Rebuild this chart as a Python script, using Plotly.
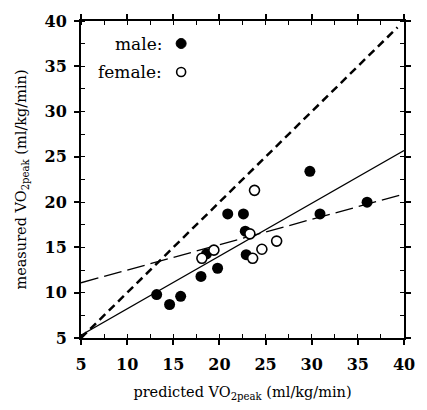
import plotly.graph_objects as go

# Data
male_x = [13.2, 14.6, 15.8, 18.0, 19.8, 18.6, 20.9, 22.6, 22.8, 22.9, 29.8, 30.9, 36.0]
male_y = [9.8, 8.7, 9.6, 11.8, 12.7, 14.3, 18.7, 18.7, 16.8, 14.2, 23.4, 18.7, 20.0]
female_x = [18.1, 19.4, 23.8, 23.3, 23.6, 24.6, 26.2]
female_y = [13.8, 14.7, 21.3, 16.5, 13.8, 14.8, 15.7]

identity_x = [5.0, 39.3]
identity_y = [5.0, 39.3]
fit_x = [5.0, 40.0]
fit_all_y = [5.3, 25.7]
fit_long_y = [11.1, 20.9]

axis_range = [5, 40]
tick_step = 5

FONT = "DejaVu Serif"

fig = go.Figure()
fig.add_trace(go.Scatter(x=identity_x, y=identity_y, mode="lines",
                         line=dict(color="black", width=2.5, dash="8px,5px"),
                         showlegend=False, hoverinfo="skip"))
fig.add_trace(go.Scatter(x=fit_x, y=fit_all_y, mode="lines",
                         line=dict(color="black", width=1.3),
                         showlegend=False, hoverinfo="skip"))
fig.add_trace(go.Scatter(x=fit_x, y=fit_long_y, mode="lines",
                         line=dict(color="black", width=1.3, dash="18px,6px"),
                         showlegend=False, hoverinfo="skip"))
fig.add_trace(go.Scatter(x=male_x, y=male_y, mode="markers", name="male",
                         marker=dict(symbol="circle", size=11, color="black"),
                         showlegend=False))
fig.add_trace(go.Scatter(x=female_x, y=female_y, mode="markers", name="female",
                         marker=dict(symbol="circle", size=10, color="white",
                                     line=dict(color="black", width=1.6)),
                         showlegend=False))

axis_common = dict(
    range=axis_range, tickmode="linear", tick0=axis_range[0], dtick=tick_step,
    showgrid=False, zeroline=False,
    showline=True, linecolor="black", linewidth=2, mirror="allticks",
    ticks="outside", ticklen=5, tickwidth=1.5, tickcolor="black",
    tickfont=dict(family=FONT, size=16, color="black", weight="bold"),
    minor=dict(ticks="inside", ticklen=4, tickwidth=1, tickcolor="black",
               tickmode="linear", dtick=tick_step / 2, showgrid=False),
)

fig.update_layout(
    width=427, height=410,
    margin=dict(l=81, r=14, t=16, b=71),
    paper_bgcolor="white", plot_bgcolor="white",
    font=dict(family=FONT, color="black"),
    showlegend=False,
    xaxis=dict(**axis_common, ticklabelstandoff=6,
               title=dict(text="predicted VO<sub>2peak</sub> (ml/kg/min)",
                          font=dict(family=FONT, size=14.5), standoff=14)),
    yaxis=dict(**axis_common, ticklabelstandoff=4,
               title=dict(text="measured VO<sub>2peak</sub> (ml/kg/min)",
                          font=dict(family=FONT, size=14.5), standoff=14)),
)

# legend text
fig.add_annotation(x=0.256, y=0.929, xref="paper", yref="paper", text="male:",
                   showarrow=False, xanchor="right", yanchor="middle",
                   font=dict(family=FONT, size=17, color="black"))
fig.add_annotation(x=0.256, y=0.839, xref="paper", yref="paper", text="female:",
                   showarrow=False, xanchor="right", yanchor="middle",
                   font=dict(family=FONT, size=17, color="black"))
# legend keys
fig.add_shape(type="circle", xref="paper", yref="paper", xsizemode="pixel", ysizemode="pixel",
              xanchor=0.310, yanchor=0.929, x0=-5, x1=5, y0=-5, y1=5,
              fillcolor="black", line=dict(color="black", width=1))
fig.add_shape(type="circle", xref="paper", yref="paper", xsizemode="pixel", ysizemode="pixel",
              xanchor=0.310, yanchor=0.839, x0=-4.5, x1=4.5, y0=-4.5, y1=4.5,
              fillcolor="white", line=dict(color="black", width=1.6))

fig.write_html(
    "out.html",
    config={"displayModeBar": False},
    post_script=(
        "document.body.style.margin='0';document.body.style.padding='0';"
        "document.body.style.overflow='hidden';"
        "document.documentElement.style.overflow='hidden';"
    ),
)
